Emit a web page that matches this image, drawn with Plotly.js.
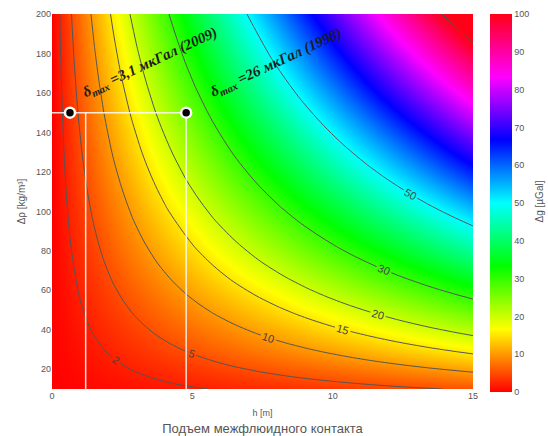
<!DOCTYPE html>
<html>
<head>
<meta charset="utf-8">
<script src="https://cdn.plot.ly/plotly-3.0.1.min.js"></script>
<style>html,body{margin:0;padding:0;background:#fff;}#chart{width:548px;height:436px;}</style>
</head>
<body>
<div id="chart"></div>
<script>
// h [m] grid (columns)
const hVals = [0, 0.5, 1, 1.5, 2, 3, 4, 5, 6, 7, 8, 9, 10, 11, 12, 13, 14, 15];
// Δρ [kg/m³] grid (rows)
const rhoVals = [10, 20, 30, 40, 50, 60, 80, 100, 120, 140, 160, 180, 200];
// Δg [µGal]
const zVals = [
  [0, 0.18, 0.36, 0.54, 0.72, 1.08, 1.44, 1.8, 2.16, 2.52, 2.88, 3.24, 3.6, 3.96, 4.32, 4.68, 5.04, 5.4],
  [0, 0.36, 0.72, 1.08, 1.44, 2.16, 2.88, 3.6, 4.32, 5.04, 5.76, 6.48, 7.2, 7.92, 8.64, 9.36, 10.08, 10.8],
  [0, 0.54, 1.08, 1.62, 2.16, 3.24, 4.32, 5.4, 6.48, 7.56, 8.64, 9.72, 10.8, 11.88, 12.96, 14.04, 15.12, 16.2],
  [0, 0.72, 1.44, 2.16, 2.88, 4.32, 5.76, 7.2, 8.64, 10.08, 11.52, 12.96, 14.4, 15.84, 17.28, 18.72, 20.16, 21.6],
  [0, 0.9, 1.8, 2.7, 3.6, 5.4, 7.2, 9, 10.8, 12.6, 14.4, 16.2, 18, 19.8, 21.6, 23.4, 25.2, 27],
  [0, 1.08, 2.16, 3.24, 4.32, 6.48, 8.64, 10.8, 12.96, 15.12, 17.28, 19.44, 21.6, 23.76, 25.92, 28.08, 30.24, 32.4],
  [0, 1.44, 2.88, 4.32, 5.76, 8.64, 11.52, 14.4, 17.28, 20.16, 23.04, 25.92, 28.8, 31.68, 34.56, 37.44, 40.32, 43.2],
  [0, 1.8, 3.6, 5.4, 7.2, 10.8, 14.4, 18, 21.6, 25.2, 28.8, 32.4, 36, 39.6, 43.2, 46.8, 50.4, 54],
  [0, 2.16, 4.32, 6.48, 8.64, 12.96, 17.28, 21.6, 25.92, 30.24, 34.56, 38.88, 43.2, 47.52, 51.84, 56.16, 60.48, 64.8],
  [0, 2.52, 5.04, 7.56, 10.08, 15.12, 20.16, 25.2, 30.24, 35.28, 40.32, 45.36, 50.4, 55.44, 60.48, 65.52, 70.56, 75.6],
  [0, 2.88, 5.76, 8.64, 11.52, 17.28, 23.04, 28.8, 34.56, 40.32, 46.08, 51.84, 57.6, 63.36, 69.12, 74.88, 80.64, 86.4],
  [0, 3.24, 6.48, 9.72, 12.96, 19.44, 25.92, 32.4, 38.88, 45.36, 51.84, 58.32, 64.8, 71.28, 77.76, 84.24, 90.72, 97.2],
  [0, 3.6, 7.2, 10.8, 14.4, 21.6, 28.8, 36, 43.2, 50.4, 57.6, 64.8, 72, 79.2, 86.4, 93.6, 100.8, 108]
];
// labelled contour levels
const contourLevels = [2, 5, 10, 15, 20, 30, 50, 100];
// measured points
const pointH = [0.64, 4.78];
const pointRho = [150, 150];
const pointLabels = ["δ<sub>max</sub> =3,1 мкГал (2009)", "δ<sub>max</sub> =26 мкГал (1998)"];
const labelH = [3.5, 8.0];
const labelRho = [175, 175];
// white guide lines
const guideHLineH = [0, 4.78];
const guideHLineRho = [150, 150];
const guideV1H = [1.2, 1.2];
const guideV1Rho = [10, 150];
const guideV2H = [4.78, 4.78];
const guideV2Rho = [10, 150];
// tick labels
const xTicks = [0, 5, 10, 15];
const yTicks = [20, 40, 60, 80, 100, 120, 140, 160, 180, 200];
const cbTicks = [0, 10, 20, 30, 40, 50, 60, 70, 80, 90, 100];

const hsv = [
  [0, '#ff0000'], [1/6, '#ffff00'], [2/6, '#00ff00'], [3/6, '#00ffff'],
  [4/6, '#0000ff'], [5/6, '#ff00ff'], [1, '#ff0018']
];

const traces = [];
traces.push({
  type: 'heatmap', x: hVals, y: rhoVals, z: zVals, zsmooth: 'best',
  colorscale: hsv, zmin: 0, zmax: 100, hoverinfo: 'skip',
  colorbar: {
    x: 1.040, xanchor: 'left', y: 0.496, yanchor: 'middle',
    thickness: 22, thicknessmode: 'pixels', len: 378, lenmode: 'pixels',
    xpad: 0, ypad: 0, outlinewidth: 0, ticks: '',
    tickvals: cbTicks, tickfont: {size: 9, color: '#555'}
  }
});
contourLevels.forEach(L => {
  traces.push({
    type: 'contour', x: hVals, y: rhoVals, z: zVals, showscale: false,
    contours: {start: L, end: L, size: 1, coloring: 'none', showlabels: true,
      labelfont: {size: 11, color: '#444'}},
    line: {color: '#555', width: 1, smoothing: 1.3},
    hoverinfo: 'skip'
  });
});
traces.push({type: 'scatter', mode: 'lines', x: guideHLineH, y: guideHLineRho,
  line: {color: 'rgba(255,255,255,0.85)', width: 1.5}, showlegend: false, hoverinfo: 'skip'});
traces.push({type: 'scatter', mode: 'lines', x: guideV1H, y: guideV1Rho,
  line: {color: 'rgba(255,255,255,0.85)', width: 1.5}, showlegend: false, hoverinfo: 'skip'});
traces.push({type: 'scatter', mode: 'lines', x: guideV2H, y: guideV2Rho,
  line: {color: 'rgba(255,255,255,0.85)', width: 1.5}, showlegend: false, hoverinfo: 'skip'});
traces.push({type: 'scatter', mode: 'markers', x: pointH, y: pointRho,
  marker: {color: '#000', size: 10, line: {color: '#fff', width: 2.5}}, showlegend: false, hoverinfo: 'skip'});

const annotations = pointLabels.map((t, i) => ({
  x: labelH[i], y: labelRho[i], xref: 'x', yref: 'y', text: '<b><i>' + t + '</i></b>',
  showarrow: false, textangle: -25,
  font: {family: 'Liberation Serif, DejaVu Serif, serif', size: 15, color: '#1c1c1c'}
}));
annotations.push({
  x: 1.159, y: 0.5, xref: 'paper', yref: 'paper', text: 'Δg [µGal]',
  showarrow: false, textangle: -90, xanchor: 'center', yanchor: 'middle',
  font: {size: 10, color: '#555'}
});

const layout = {
  width: 548, height: 436,
  margin: {l: 52, r: 75, t: 14, b: 47},
  paper_bgcolor: '#fff', plot_bgcolor: '#fff',
  font: {family: 'Liberation Sans, Arial, sans-serif', color: '#555'},
  showlegend: false,
  xaxis: {range: [0, 15], tickvals: xTicks, showgrid: false, zeroline: false, showline: false,
    ticks: '', tickfont: {size: 9, color: '#555'},
    title: {text: '<span style="font-size:9px">h [m]</span><br>Подъем межфлюидного контакта',
      font: {size: 13, color: '#555'}, standoff: 6}},
  yaxis: {range: [10, 200], tickvals: yTicks, showgrid: false, zeroline: false, showline: false,
    ticks: '', tickfont: {size: 9, color: '#555'},
    title: {text: 'Δρ [kg/m³]', font: {size: 10, color: '#555'}, standoff: 8}},
  annotations: annotations
};

Plotly.newPlot('chart', traces, layout, {displayModeBar: false, staticPlot: true});
</script>
</body>
</html>
